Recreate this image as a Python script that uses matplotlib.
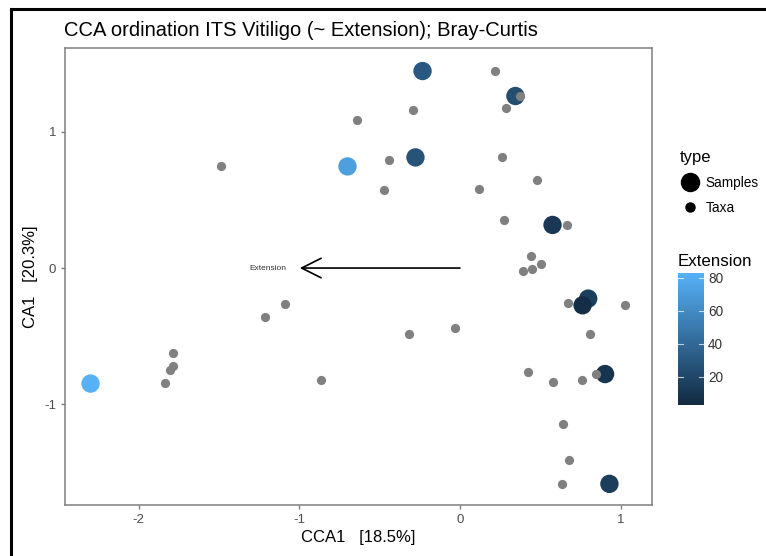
import matplotlib
matplotlib.use("Agg")
import matplotlib.pyplot as plt
import numpy as np
from matplotlib.colors import LinearSegmentedColormap, Normalize
from matplotlib.lines import Line2D

plt.rcParams['font.family'] = ['Liberation Sans', 'DejaVu Sans']
plt.rcParams['axes.unicode_minus'] = False

# sample scores (CCA1, CA1) and their Extension values
sample_x = [-0.233, 0.345, -0.700, -0.277, 0.576, 0.798, 0.763, 0.903, 0.930, -2.299]
sample_y = [1.444, 1.261, 0.745, 0.811, 0.316, -0.224, -0.273, -0.777, -1.582, -0.847]
sample_ext = [30, 23, 72, 27, 11, 15, 5, 9, 14, 83]

# taxa scores
taxa_x = [-1.486, -0.638, 0.217, 0.372, 0.285, -0.291, -0.439, -0.474, 0.264, 0.480,
          0.121, 0.271, 0.669, 0.441, 0.503, 0.395, 0.449, -1.092, -1.215, -1.783,
          -1.787, -1.803, -1.833, -0.864, 0.673, 1.028, -0.320, -0.032, 0.812, 0.422,
          0.580, 0.758, 0.847, 0.642, 0.681, 0.634]
taxa_y = [0.751, 1.087, 1.446, 1.262, 1.175, 1.158, 0.789, 0.569, 0.813, 0.644,
          0.578, 0.350, 0.319, 0.086, 0.033, -0.021, -0.009, -0.261, -0.358, -0.622,
          -0.716, -0.745, -0.845, -0.821, -0.253, -0.273, -0.486, -0.442, -0.484, -0.762,
          -0.833, -0.823, -0.777, -1.143, -1.407, -1.582]

# constraint biplot arrow
arrow_label = "Extension"
arrow_end = (-0.997, 0.0)

ext_min, ext_max = 3, 83
cmap = LinearSegmentedColormap.from_list("ext", ["#132B43", "#56B1F7"])
norm = Normalize(vmin=ext_min, vmax=ext_max)

W, H = 766, 556
fig = plt.figure(figsize=(W / 100, H / 100), dpi=100)
ax = fig.add_axes([65 / W, 1 - 505 / H, (652 - 65) / W, (505 - 48) / H])

ax.scatter(sample_x, sample_y, s=175, c=sample_ext, cmap=cmap, norm=norm,
           linewidths=0, zorder=2)
ax.scatter(taxa_x, taxa_y, s=44, color="#808080", linewidths=0, zorder=3)

ax.annotate("", xy=arrow_end, xytext=(0, 0),
            arrowprops=dict(arrowstyle="->,head_length=1.4,head_width=0.7",
                            color="black", lw=1.2, shrinkA=0, shrinkB=0), zorder=4)
ax.text(arrow_end[0] - 0.2, arrow_end[1], arrow_label, fontsize=6, color="#333333",
        ha="center", va="center")

ax.set_xlim(-2.458, 1.195)
ax.set_ylim(-1.737, 1.613)
ax.set_xticks([-2, -1, 0, 1])
ax.set_yticks([-1, 0, 1])
for sp in ax.spines.values():
    sp.set_color("#7f7f7f")
    sp.set_linewidth(1.1)
ax.tick_params(colors="#7f7f7f", labelcolor="#4d4d4d", labelsize=9.5, length=3, width=1)
ax.set_xlabel("CCA1   [18.5%]", fontsize=12, labelpad=3)
ax.set_ylabel("CA1   [20.3%]", fontsize=12, labelpad=4)
ax.set_title("CCA ordination ITS Vitiligo (~ Extension); Bray-Curtis", fontsize=14.5,
             loc="left", x=-0.002, pad=9)

# type legend
handles = [Line2D([], [], marker="o", ls="", color="black", markersize=13, label="Samples"),
           Line2D([], [], marker="o", ls="", color="black", markersize=6.5, label="Taxa")]
leg = fig.legend(handles=handles, title="type", loc="upper left",
                 bbox_to_anchor=(669 / W, 1 - 139 / H), frameon=False,
                 fontsize=9.8, title_fontsize=12, handletextpad=0.4, labelspacing=0.8,
                 borderpad=0.3, handlelength=1.5)
leg._legend_box.align = "left"

# Extension colour bar
cax = fig.add_axes([678 / W, 1 - 405 / H, 26 / W, 132 / H])
grad = np.linspace(ext_min, ext_max, 200).reshape(-1, 1)
cax.imshow(grad, aspect="auto", origin="lower", cmap=cmap, norm=norm,
           extent=[0, 1, ext_min, ext_max])
cax.set_xlim(0, 1)
cax.set_ylim(ext_min, ext_max)
for v in [20, 40, 60, 80]:
    cax.plot([0, 0.2], [v, v], color="white", lw=0.8, alpha=0.7)
    cax.plot([0.8, 1], [v, v], color="white", lw=0.8, alpha=0.7)
cax.set_xticks([])
cax.set_yticks([20, 40, 60, 80])
cax.yaxis.tick_right()
cax.tick_params(length=0, labelsize=9.8, labelcolor="#333333", pad=3)
for sp in cax.spines.values():
    sp.set_visible(False)
fig.text(678 / W, 1 - 261 / H, "Extension", fontsize=12.2, ha="left", va="center")

# outer frame on left and top
fig.add_artist(Line2D([11 / W, 11 / W], [0, 1 - 9 / H], color="black", lw=2.2))
fig.add_artist(Line2D([11 / W, 1], [1 - 9 / H, 1 - 9 / H], color="black", lw=2.2))

fig.savefig("out.png", dpi=100)
